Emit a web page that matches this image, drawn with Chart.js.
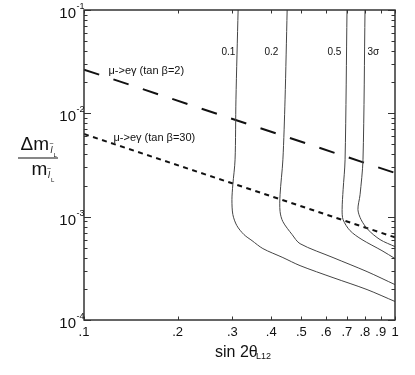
<!DOCTYPE html>
<html>
<head>
<meta charset="utf-8">
<script src="https://cdn.jsdelivr.net/npm/chart.js@4.4.0/dist/chart.umd.min.js"></script>
<style>
  html, body { margin: 0; padding: 0; background: #fff; }
  canvas { display: block; }
</style>
</head>
<body>
<canvas id="chart" width="415" height="375"></canvas>
<script>
// ---- AXES ----
const xTickValues = [0.1, 0.2, 0.3, 0.4, 0.5, 0.6, 0.7, 0.8, 0.9, 1];
const xTickLabels = ['.1', '.2', '.3', '.4', '.5', '.6', '.7', '.8', '.9', '1'];
const yTickValues = [1e-4, 1e-3, 1e-2, 1e-1];
const yTickExps = ['-4', '-3', '-2', '-1'];

// ---- CONTOURS (sin 2θ, Δm/m) ----
const c01X = [0.313, 0.308, 0.306, 0.301, 0.299, 0.301, 0.310, 0.327, 0.347, 0.376, 0.436, 0.495, 0.632, 0.813, 1.0];
const c01Y = [0.1, 0.0135, 0.00355, 0.00204, 0.00146, 0.00105, 0.00082, 0.00067, 0.000586, 0.000491, 0.000402, 0.000336, 0.000257, 0.000197, 0.000151];

const c02X = [0.450, 0.443, 0.436, 0.427, 0.427, 0.436, 0.467, 0.495, 0.632, 0.813, 1.0];
const c02Y = [0.1, 0.0135, 0.00355, 0.00163, 0.00112, 0.000895, 0.00067, 0.000548, 0.000402, 0.000294, 0.00022];

const c05X = [0.701, 0.691, 0.681, 0.676, 0.681, 0.717, 0.783, 0.908, 1.0];
const c05Y = [0.1, 0.00355, 0.00182, 0.00117, 0.000935, 0.000732, 0.0006, 0.000469, 0.000393];

const c3sX = [0.801, 0.789, 0.772, 0.760, 0.778, 0.819, 0.895, 1.0];
const c3sY = [0.1, 0.00355, 0.00163, 0.00117, 0.000935, 0.000749, 0.0006, 0.000513];

const contourLabels = ['0.1', '0.2', '0.5', '3σ'];

// ---- μ -> eγ limits ----
const muE2X = [0.1, 1];
const muE2Y = [0.0265, 0.00265];
const muE30X = [0.1, 1];
const muE30Y = [0.0063, 0.00063];

const FONT = '"Liberation Sans", Arial, Helvetica, sans-serif';

const pts = (xs, ys) => xs.map((v, i) => ({ x: v, y: ys[i] }));

function contour(xs, ys) {
  return { data: pts(xs, ys), borderColor: '#444', borderWidth: 1, pointRadius: 0, showLine: true, tension: 0.3, fill: false };
}

function limit(xs, ys, dash) {
  return { data: pts(xs, ys), borderColor: '#111', borderWidth: 2, borderDash: dash, pointRadius: 0, showLine: true, tension: 0, fill: false };
}

function seg(ctx, x1, y1, x2, y2) {
  ctx.beginPath();
  ctx.moveTo(x1, y1);
  ctx.lineTo(x2, y2);
  ctx.stroke();
}

// frame, inward ticks, labels and titles
const decoPlugin = {
  id: 'deco',
  afterDraw(chart) {
    const { ctx, chartArea: a, scales: { x, y } } = chart;
    ctx.save();
    ctx.strokeStyle = '#333';
    ctx.fillStyle = '#111';

    // y ticks (major + minor)
    ctx.lineWidth = 1;
    yTickValues.forEach((v, i) => {
      const py = Math.round(y.getPixelForValue(v)) + 0.5;
      seg(ctx, a.left, py, a.left + 7, py);
      seg(ctx, a.right, py, a.right - 7, py);
      if (i < yTickValues.length - 1) {
        for (let m = 2; m <= 9; m++) {
          const pm = Math.round(y.getPixelForValue(v * m)) + 0.5;
          seg(ctx, a.left, pm, a.left + 3.5, pm);
          seg(ctx, a.right, pm, a.right - 3.5, pm);
        }
      }
    });
    xTickValues.forEach(v => {
      const px = Math.round(x.getPixelForValue(v)) + 0.5;
      seg(ctx, px, a.bottom, px, a.bottom - 3.5);
      seg(ctx, px, a.top, px, a.top + 3.5);
    });

    ctx.lineWidth = 1.5;
    ctx.strokeRect(a.left, a.top, a.right - a.left, a.bottom - a.top);

    // x tick labels
    ctx.font = `13px ${FONT}`;
    ctx.textAlign = 'center';
    ctx.textBaseline = 'alphabetic';
    xTickValues.forEach((v, i) => {
      ctx.fillText(xTickLabels[i], x.getPixelForValue(v), a.bottom + 16);
    });

    // y tick labels 10^k
    yTickValues.forEach((v, i) => {
      const py = y.getPixelForValue(v);
      ctx.font = `15px ${FONT}`;
      ctx.textAlign = 'right';
      ctx.fillText('10', a.left - 8, py + 8);
      ctx.font = `9px ${FONT}`;
      ctx.textAlign = 'left';
      ctx.fillText(yTickExps[i], a.left - 7.5, py - 1);
    });

    // contour labels
    ctx.font = `10px ${FONT}`;
    ctx.textAlign = 'left';
    const labelX = [221.5, 264.5, 327.5, 367.5];
    contourLabels.forEach((t, i) => ctx.fillText(t, labelX[i], 55));

    // limit labels
    ctx.font = `11px ${FONT}`;
    ctx.fillText('μ->eγ (tan β=2)', 108.5, 74);
    ctx.fillText('μ->eγ (tan β=30)', 113.5, 141);

    // x title
    ctx.font = `16px ${FONT}`;
    ctx.fillText('sin 2θ', 215, 357);
    ctx.font = `9px ${FONT}`;
    ctx.fillText('L12', 256, 359);

    // y title: Δm_l̃L / m_l̃L
    ctx.font = `19px ${FONT}`;
    ctx.fillText('Δm', 20.5, 150);
    ctx.fillText('m', 31.5, 175);
    ctx.fillRect(18, 157.5, 40, 1);
    const sub = (sx, sy) => {
      ctx.font = `italic 9px ${FONT}`;
      ctx.fillText('l', sx, sy);
      ctx.font = `7px ${FONT}`;
      ctx.fillText('~', sx - 1, sy - 7);
      ctx.font = `6px ${FONT}`;
      ctx.fillText('L', sx + 3, sy + 4);
    };
    sub(50.5, 153);
    sub(48, 178);

    ctx.restore();
  }
};

new Chart(document.getElementById('chart'), {
  type: 'scatter',
  data: {
    datasets: [
      contour(c01X, c01Y),
      contour(c02X, c02Y),
      contour(c05X, c05Y),
      contour(c3sX, c3sY),
      limit(muE2X, muE2Y, [16, 15]),
      limit(muE30X, muE30Y, [5, 4.5]),
    ]
  },
  options: {
    responsive: false,
    devicePixelRatio: 1,
    animation: false,
    layout: { padding: { left: 84, right: 20, top: 10, bottom: 55 } },
    plugins: { legend: { display: false }, tooltip: { enabled: false } },
    scales: {
      x: { type: 'logarithmic', min: 0.1, max: 1, display: false },
      y: { type: 'logarithmic', min: 1e-4, max: 1e-1, display: false }
    }
  },
  plugins: [decoPlugin]
});
</script>
</body>
</html>
